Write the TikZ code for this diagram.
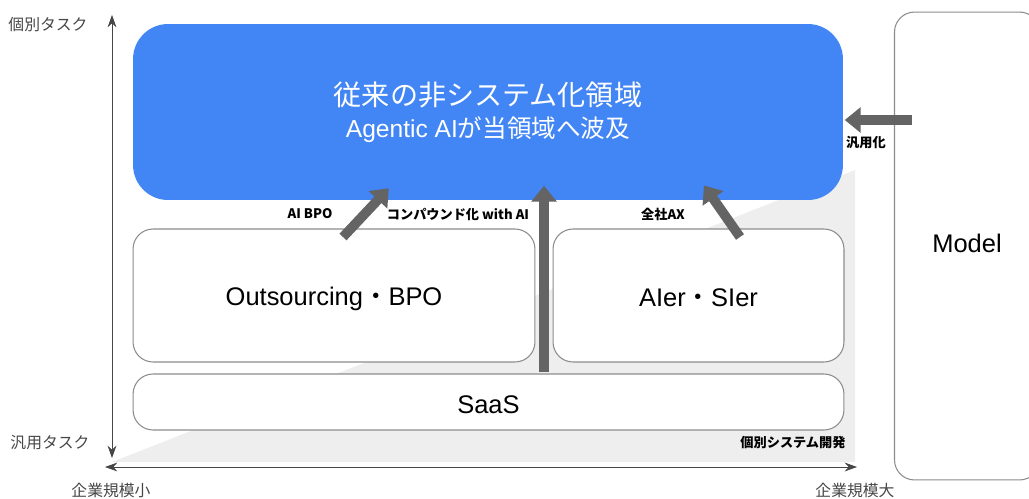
\documentclass[tikz,border=0pt]{standalone}
\usepackage{fontspec}
\setmainfont{Liberation Sans}
\newfontfamily\jp{Noto Sans CJK JP}
\usetikzlibrary{arrows.meta,positioning,calc}
\definecolor{areablue}{RGB}{66,133,244}
\definecolor{boxline}{RGB}{140,140,140}
\definecolor{bigarrow}{RGB}{100,100,100}
\definecolor{axisgray}{RGB}{70,70,70}
\definecolor{wedge}{RGB}{238,238,238}
\tikzset{
	segment/.style={
		rectangle, rounded corners=4mm, draw=boxline, line width=0.6pt,
		fill=white, font=\fontsize{14.5}{18}\selectfont
	},
	%
	bigarea/.style={
		rectangle, rounded corners=7mm, fill=areablue, text=white,
		align=center
	},
	%
	flow/.style={
		draw=bigarrow!80!black, line width=5.5pt, bigarrow,
		-{Triangle[length=9pt,width=14pt]}, shorten >=1pt
	},
	%
	flowlabel/.style={
		font=\jp\bfseries\fontsize{7.5}{8}\selectfont, text=black
	},
	%
	axislabel/.style={
		font=\jp\fontsize{9}{10}\selectfont, text=axisgray
	}
}

\begin{document}
\begin{tikzpicture}[x=0.02cm, y=-0.02cm]
    \useasboundingbox (0,0) rectangle (1029,498);
    % background wedge
    \fill[wedge] (112,462) -- (855,462) -- (855,170) -- cycle;
    % axes
    \draw[axisgray, thin, {Stealth[length=7pt,width=5pt]}-{Stealth[length=7pt,width=5pt]}] (112,15) -- (112,458);
    \draw[axisgray, thin, {Stealth[length=7pt,width=5pt]}-{Stealth[length=7pt,width=5pt]}] (105,467) -- (857,467);
    \node(top)[axislabel] at (48,25) {個別タスク};
    \node(bottom)[axislabel] at (50,443) {汎用タスク};
    \node(small)[axislabel] at (111,490) {企業規模小};
    \node(large)[axislabel] at (855,490) {企業規模大};

    \node(area)[bigarea, minimum width=14.2cm, minimum height=3.52cm] at (488,112) {
    {\jp\fontsize{16}{20}\selectfont 従来の非システム化領域}\\[4pt]
    {\fontsize{14}{18}\selectfont Agentic AI{\jp が当領域へ波及}}
    };
    \node(bpo)[segment, minimum width=8.04cm, minimum height=2.66cm] at (334,295.5) {\raisebox{-2pt}[\height][\depth]{Outsourcing{\jp ・}BPO}};
    \node(sier)[segment, minimum width=5.82cm, minimum height=2.66cm] at (698.5,295.5) {\raisebox{-1pt}[\height][\depth]{AIer{\jp ・}SIer}};
    \node(saas)[segment, minimum width=14.22cm, minimum height=1.12cm] at (488.5,402) {\raisebox{-1.5pt}[\height][\depth]{SaaS}};
    \node(model)[segment, minimum width=2.9cm, minimum height=9.36cm] at (967,246) {\raisebox{3pt}{Model}};

    \coordinate (bpo out) at (343,237);
    \coordinate (area in1) at (390,187);
    \coordinate (saas out) at (544,372);
    \coordinate (area in2) at (544,184);
    \coordinate (sier out) at (740,237);
    \coordinate (area in3) at (703,184);
    \coordinate (model out) at (912,120);
    \coordinate (area in4) at (843,120);
    \draw[flow] (bpo out) -- (area in1);
    \draw[flow] (saas out) -- (area in2);
    \draw[flow] (sier out) -- (area in3);
    \draw[flow] (model out) -- (area in4);

    \node(aibpo)[flowlabel] at (310,214) {AI BPO};
    \node(compound)[flowlabel] at (458,214) {コンパウンド化 with AI};
    \node(ax)[flowlabel] at (663,214) {全社AX};
    \node(general)[flowlabel] at (866,143) {汎用化};
    \node(custom)[flowlabel] at (793,443) {個別システム開発};
\end{tikzpicture}
\end{document}
